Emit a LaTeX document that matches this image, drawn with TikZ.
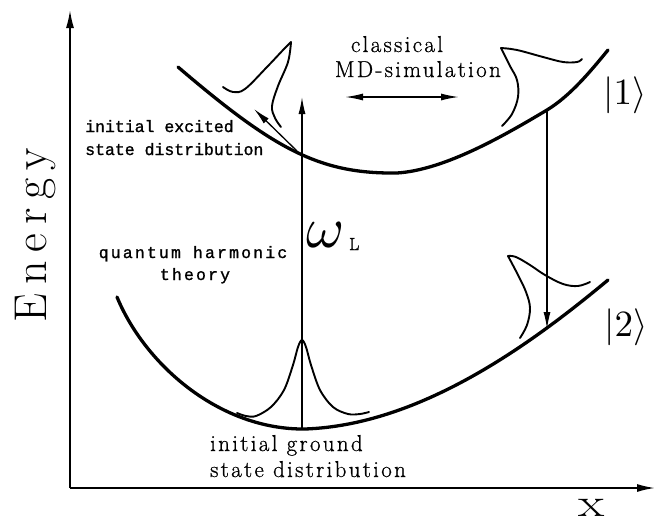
\documentclass[tikz,border=0pt]{standalone}
\usepackage{fontspec}
\usetikzlibrary{arrows.meta}
\newfontfamily\twfont[FakeBold=1.2]{Liberation Mono}
\newfontfamily\twspfont[LetterSpace=13,FakeBold=1.2]{Liberation Mono}
\newfontfamily\rmspfont[LetterSpace=10,FakeBold=0.8]{Latin Modern Roman}
\newfontfamily\rmwidefont[LetterSpace=19]{Latin Modern Roman}
\newfontfamily\rmboldfont[FakeBold=1.5]{Latin Modern Roman}
\begin{document}
\begin{tikzpicture}[x=1pt,y=-1pt,
  axis/.style={line width=1.7pt,-{Latex[length=18pt,width=8pt]}},
  thin arrow/.style={line width=1.3pt,-{Latex[length=17pt,width=7pt]}},
  pot/.style={line width=3.3pt,line cap=round},
  packet/.style={line width=1.9pt,line cap=round,line join=round},
  lab/.style={inner sep=0pt}]
\useasboundingbox (0,0) rectangle (656,525);
% axes
\coordinate (O) at (70,488);
\coordinate (ytip) at (70,10);
\coordinate (xtip) at (655,488);
\draw[axis] (O) -- (ytip);
\draw[axis] (O) -- (xtip);
\node[lab,rotate=90,anchor=base] (energy) at (46,235)
  {\rmwidefont\fontsize{46}{50}\selectfont Energy};
\node[lab] (xlab) at (592,508) {\scalebox{1.35}[1]{\fontsize{40}{44}\selectfont x}};
% potential curves
\draw[pot] (178,67) .. controls (275,150) and (320,174) .. (397,173)
  .. controls (445,170) and (505,135) .. (547,110)
  .. controls (570,96) and (590,72) .. (608,50);
\draw[pot] (117,297) .. controls (145,365) and (220,430) .. (305,429)
  .. controls (420,425) and (530,345) .. (608,280);
% state labels
\node[lab] (s1) at (625,95) {\scalebox{3.7}{$|1\rangle$}};
\node[lab] (s2) at (626,327) {\scalebox{3.7}{$|2\rangle$}};
% wave packets
\draw[packet] plot[smooth,tension=0.6] coordinates {(223,87) (233,92) (245,89) (267,67) (284,49) (291,42)};
\draw[packet] plot[smooth,tension=0.6] coordinates {(291,42) (288,62) (278,86) (272,106) (275,118) (281,127)};
\draw[packet] plot[smooth,tension=0.6] coordinates {(502,126) (512,114) (518,97) (517,80) (510,66) (501,48)};
\draw[packet] plot[smooth,tension=0.6] coordinates {(501,48) (517,50) (543,57) (563,62) (577,62) (582,59)};
\draw[packet] plot[smooth,tension=0.6] coordinates {(520,338) (527,325) (530,308) (526,292) (518,275) (508,256)};
\draw[packet] plot[smooth,tension=0.6] coordinates {(508,256) (516,257) (530,265) (545,275) (563,284) (578,286) (590,282)};
\draw[packet] plot[smooth,tension=0.55] coordinates {(237,413) (246,416) (256,416) (271,407) (284,390) (293,365) (298,347) (302,340) (306,347) (311,365) (320,390) (333,407) (348,414) (360,414) (369,412)};
% transitions
\coordinate (wl0) at (302,429);
\coordinate (wl1) at (302,97);
\draw[thin arrow] (wl0) -- (wl1);
\coordinate (dn0) at (547,110);
\coordinate (dn1) at (547,329);
\draw[thin arrow] (dn0) -- (dn1);
\coordinate (md0) at (345,97);
\coordinate (md1) at (459,97);
\draw[line width=1.5pt,{Latex[length=18pt,width=7pt]}-{Latex[length=18pt,width=7pt]}] (md0) -- (md1);
\coordinate (sa0) at (297,151);
\coordinate (sa1) at (254,109);
\draw[thin arrow] (sa0) -- (sa1);
% omega_L
\node[lab,anchor=base] (om) at (326,247) {\scalebox{5.8}{$\omega$}};
\node[lab,anchor=base west] (omL) at (349,250) {\rmboldfont\fontsize{17.5}{20}\selectfont L};
% text labels
\node[lab,anchor=base] (cl1) at (397,52) {\rmspfont\fontsize{23}{26}\selectfont classical};
\node[lab,anchor=base east] (cl2) at (501,77) {\rmspfont\fontsize{23}{26}\selectfont MD-simulation};
\node[lab,anchor=base west] (ie1) at (85,132) {\twfont\fontsize{16.5}{20}\selectfont initial excited};
\node[lab,anchor=base west] (ie2) at (85,155) {\twfont\fontsize{16.5}{20}\selectfont state distribution};
\node[lab,anchor=base] (qh1) at (193,258) {\twspfont\fontsize{16.5}{20}\selectfont quantum harmonic};
\node[lab,anchor=base] (qh2) at (195,280) {\twspfont\fontsize{16.5}{20}\selectfont theory};
\node[lab,anchor=base west] (ig1) at (210,451) {\rmspfont\fontsize{23}{26}\selectfont initial ground};
\node[lab,anchor=base west] (ig2) at (210,477) {\rmspfont\fontsize{23}{26}\selectfont state distribution};
\end{tikzpicture}
\end{document}
